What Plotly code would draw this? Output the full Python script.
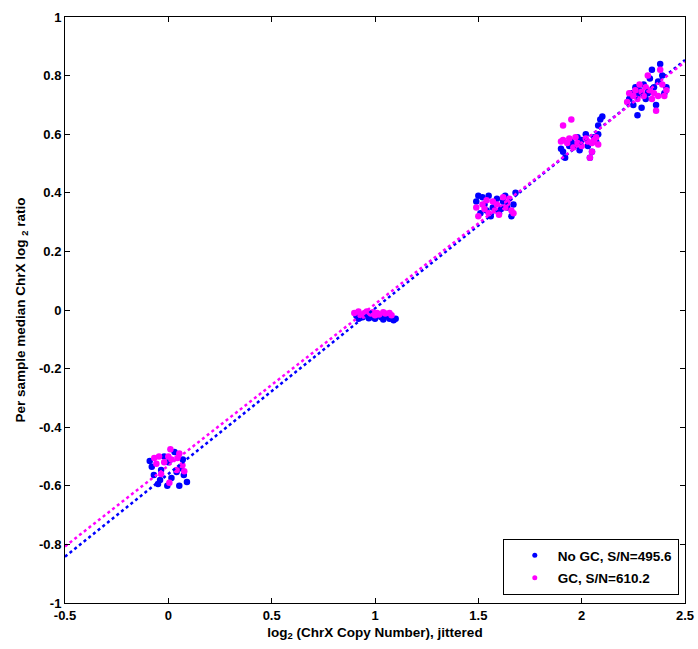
import numpy as np
import plotly.graph_objects as go

# Per-sample ChrX medians, x jittered around log2 of the copy number
nogc_x = [
    -0.09, -0.08, -0.04, -0.035, 0.0, 0.015, 0.04, 0.06, 0.075, 0.09, -0.05, -0.02, 0.03, 0.07, -0.07, -0.005, 0.053,
    0.91, 0.92, 0.94, 0.95, 0.97, 0.98, 1.00, 1.01, 1.03, 1.04, 1.06, 1.07, 1.08, 1.09, 1.10, 0.99,
    1.49, 1.50, 1.52, 1.53, 1.51, 1.54, 1.56, 1.57, 1.59, 1.60, 1.62, 1.63, 1.64, 1.66, 1.67, 1.68, 1.55, 1.61,
    1.90, 1.91, 1.92, 1.94, 1.95, 1.97, 1.98, 1.99, 2.00, 2.02, 2.03, 2.04, 2.05, 2.06, 2.07, 2.08, 2.09, 2.10, 2.08,
    2.23, 2.24, 2.25, 2.26, 2.27, 2.28, 2.29, 2.30, 2.31, 2.32, 2.33, 2.34, 2.35, 2.36, 2.37, 2.38, 2.39, 2.40, 2.41, 2.27,
]
nogc_y = [
    -0.515, -0.535, -0.58, -0.546, -0.52, -0.573, -0.553, -0.54, -0.563, -0.587, -0.594, -0.50, -0.485, -0.51, -0.563, -0.60, -0.60,
    -0.02, -0.03, -0.025, -0.015, -0.028, -0.02, -0.03, -0.018, -0.025, -0.032, -0.022, -0.03, -0.028, -0.035, -0.03, -0.025,
    0.37, 0.39, 0.385, 0.36, 0.33, 0.34, 0.32, 0.35, 0.38, 0.33, 0.37, 0.39, 0.35, 0.32, 0.36, 0.40, 0.39, 0.345,
    0.55, 0.54, 0.52, 0.56, 0.575, 0.565, 0.59, 0.545, 0.58, 0.60, 0.56, 0.52, 0.54, 0.59, 0.575, 0.63, 0.65, 0.66, 0.60,
    0.72, 0.74, 0.70, 0.76, 0.73, 0.75, 0.69, 0.77, 0.72, 0.74, 0.79, 0.82, 0.76, 0.70, 0.78, 0.84, 0.80, 0.74, 0.76, 0.665,
]
gc_x = [
    0.01, -0.045, -0.02, 0.015, 0.044, 0.068, 0.077, 0.04, -0.035, 0.005, -0.058, 0.0, 0.053, -0.068,
    0.90, 0.92, 0.93, 0.95, 0.96, 0.98, 0.99, 1.01, 1.02, 1.04, 1.05, 1.07, 1.08, 0.94, 1.00,
    1.49, 1.50, 1.52, 1.54, 1.55, 1.57, 1.58, 1.59, 1.60, 1.62, 1.63, 1.65, 1.66, 1.67, 1.53, 1.64,
    1.91, 1.95, 1.90, 1.91, 1.93, 1.94, 1.96, 1.98, 2.00, 2.02, 2.03, 2.05, 2.06, 2.07, 2.05, 2.04, 2.08, 1.97,
    2.22, 2.23, 2.25, 2.26, 2.27, 2.28, 2.29, 2.30, 2.31, 2.33, 2.34, 2.35, 2.36, 2.37, 2.38, 2.39, 2.40, 2.41, 2.32,
]
gc_y = [
    -0.475, -0.50, -0.52, -0.51, -0.505, -0.53, -0.55, -0.546, -0.56, -0.59, -0.525, -0.50, -0.49, -0.505,
    -0.01, -0.005, -0.015, -0.01, -0.005, -0.012, -0.008, -0.01, -0.015, -0.008, -0.012, -0.01, -0.018, -0.02, -0.018,
    0.35, 0.32, 0.36, 0.375, 0.33, 0.37, 0.34, 0.36, 0.325, 0.385, 0.35, 0.38, 0.34, 0.33, 0.345, 0.365,
    0.63, 0.65, 0.575, 0.58, 0.57, 0.585, 0.555, 0.57, 0.56, 0.585, 0.575, 0.57, 0.58, 0.59, 0.54, 0.52, 0.565, 0.59,
    0.71, 0.74, 0.73, 0.75, 0.72, 0.77, 0.745, 0.73, 0.76, 0.75, 0.72, 0.74, 0.68, 0.73, 0.82, 0.77, 0.73, 0.75, 0.80,
]

series_names = ["No GC, S/N=495.6", "GC, S/N=610.2"]
series_colors = ["#0000ff", "#ff00ff"]

x_ticks = [-0.5, 0, 0.5, 1, 1.5, 2, 2.5]
x_ticktext = ["-0.5", "0", "0.5", "1", "1.5", "2", "2.5"]
y_ticks = [-1, -0.8, -0.6, -0.4, -0.2, 0, 0.2, 0.4, 0.6, 0.8, 1]
y_ticktext = ["-1", "-0.8", "-0.6", "-0.4", "-0.2", "0", "0.2", "0.4", "0.6", "0.8", "1"]

FONT = "Arial, Liberation Sans, Helvetica, sans-serif"

fig = go.Figure()

series = [(nogc_x, nogc_y), (gc_x, gc_y)]
for (xs, ys), name, col in zip(series, series_names, series_colors):
    fig.add_trace(go.Scatter(
        x=xs, y=ys, mode="markers", name=name, showlegend=False,
        marker=dict(color=col, size=6.5, line=dict(width=0)),
    ))

# Least-squares fit per series, drawn across the full x range
line_x = np.array([x_ticks[0], x_ticks[-1]])
for (xs, ys), col in zip(series, series_colors):
    slope, icpt = np.polyfit(xs, ys, 1)
    fig.add_trace(go.Scatter(
        x=line_x, y=slope * line_x + icpt, mode="lines", showlegend=False,
        line=dict(color=col, width=2.5, dash="dot"), hoverinfo="skip",
    ))

# Legend entries with small dot symbols
for i, (name, col) in enumerate(zip(series_names, series_colors)):
    fig.add_trace(go.Scatter(
        x=[None], y=[None], mode="markers", name=name, legendgroup=f"g{i}",
        marker=dict(color=col, size=5),
    ))

axis_common = dict(
    showgrid=False, zeroline=False, showline=True, linecolor="black", linewidth=1,
    mirror="ticks", ticks="inside", ticklen=5, tickwidth=1, tickcolor="black",
    tickfont=dict(family=FONT, size=13, color="black", weight="bold"),
    automargin=False,
)

fig.update_layout(
    width=698, height=649,
    margin=dict(l=65, r=13, t=17, b=46),
    plot_bgcolor="white", paper_bgcolor="white",
    font=dict(family=FONT, color="black"),
    xaxis=dict(
        range=[-0.5, 2.5], tickvals=x_ticks, ticktext=x_ticktext,
        title=dict(text="log<sub>2</sub> (ChrX Copy Number), jittered",
                   font=dict(family=FONT, size=13.5, weight="bold"), standoff=5),
        **axis_common,
    ),
    yaxis=dict(
        range=[-1, 1], tickvals=y_ticks, ticktext=y_ticktext,
        title=dict(text="Per sample median ChrX log <sub>2</sub> ratio",
                   font=dict(family=FONT, size=13.5, weight="bold"), standoff=10),
        **axis_common,
    ),
    legend=dict(
        x=0.99, y=0.0137, xanchor="right", yanchor="bottom",
        bgcolor="white", bordercolor="black", borderwidth=1,
        font=dict(family=FONT, size=13.5, color="black", weight="bold"),
        tracegroupgap=2, indentation=8, itemwidth=36,
    ),
    showlegend=True,
)

fig.write_html("out.html")
